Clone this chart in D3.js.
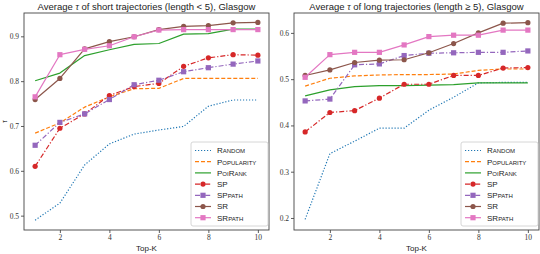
<!DOCTYPE html>
<html>
<head>
<meta charset="utf-8">
<script src="https://cdn.jsdelivr.net/npm/d3@7/dist/d3.min.js"></script>
<style>
  body { margin: 0; background: #fff; }
  svg { display: block; }
  .tick text { font-family: "Liberation Serif", "DejaVu Serif", serif; font-size: 7.5px; fill: #333; }
</style>
</head>
<body>
<div id="chart"></div>
<script>
// x values
const topK = [1, 2, 3, 4, 5, 6, 7, 8, 9, 10];

// short trajectories (length < 5)
const shortRandom     = [0.490, 0.528, 0.613, 0.660, 0.682, 0.691, 0.699, 0.744, 0.758, 0.758];
const shortPopularity = [0.684, 0.707, 0.742, 0.765, 0.783, 0.784, 0.806, 0.806, 0.806, 0.806];
const shortPoiRank    = [0.801, 0.818, 0.857, 0.870, 0.882, 0.884, 0.905, 0.906, 0.916, 0.916];
const shortSP         = [0.610, 0.695, 0.727, 0.768, 0.788, 0.795, 0.833, 0.852, 0.859, 0.858];
const shortSPpath     = [0.657, 0.708, 0.727, 0.759, 0.792, 0.802, 0.821, 0.830, 0.838, 0.845];
const shortSR         = [0.759, 0.806, 0.872, 0.888, 0.899, 0.915, 0.922, 0.924, 0.930, 0.931];
const shortSRpath     = [0.765, 0.859, 0.871, 0.879, 0.899, 0.914, 0.915, 0.915, 0.915, 0.915];

// long trajectories (length >= 5)
const longRandom     = [0.197, 0.339, 0.366, 0.394, 0.394, 0.433, 0.461, 0.492, 0.493, 0.493];
const longPopularity = [0.485, 0.502, 0.507, 0.509, 0.510, 0.510, 0.511, 0.519, 0.522, 0.522];
const longPoiRank    = [0.464, 0.477, 0.484, 0.486, 0.486, 0.487, 0.488, 0.492, 0.492, 0.492];
const longSP         = [0.386, 0.428, 0.432, 0.459, 0.489, 0.489, 0.508, 0.508, 0.524, 0.525];
const longSPpath     = [0.453, 0.457, 0.531, 0.533, 0.551, 0.556, 0.557, 0.558, 0.558, 0.561];
const longSR         = [0.508, 0.520, 0.536, 0.541, 0.542, 0.557, 0.577, 0.600, 0.621, 0.622];
const longSRpath     = [0.504, 0.553, 0.558, 0.558, 0.574, 0.592, 0.595, 0.595, 0.606, 0.606];

const xTicks = [2, 4, 6, 8, 10];
const shortYTicks = [0.5, 0.6, 0.7, 0.8, 0.9];
const longYTicks = [0.2, 0.3, 0.4, 0.5, 0.6];

// legend labels as [text, isLarge] pieces (small caps)
const methodLabels = [
  [["R", 1], ["ANDOM", 0]],
  [["P", 1], ["OPULARITY", 0]],
  [["P", 1], ["OI", 0], ["R", 1], ["ANK", 0]],
  [["SP", 1]],
  [["SP", 1], ["PATH", 0]],
  [["SR", 1]],
  [["SR", 1], ["PATH", 0]]
];

const styles = [
  { color: '#1f77b4', dash: '1.2,1.8', marker: null },
  { color: '#ff7f0e', dash: '4,2', marker: null },
  { color: '#2ca02c', dash: null, marker: null },
  { color: '#d62728', dash: '5,2,1.2,2', marker: 'circle' },
  { color: '#9467bd', dash: '5,2,1.2,2', marker: 'square' },
  { color: '#8c564b', dash: null, marker: 'circle' },
  { color: '#e377c2', dash: null, marker: 'square' }
];

const panels = [
  {
    title: ['Average ', 'τ', ' of short trajectories (length < 5), Glasgow'],
    series: [shortRandom, shortPopularity, shortPoiRank, shortSP, shortSPpath, shortSR, shortSRpath],
    yDomain: [0.468, 0.952], yTicks: shortYTicks,
    left: 24, right: 269, showYLabel: true
  },
  {
    title: ['Average ', 'τ', ' of long trajectories (length ≥ 5), Glasgow'],
    series: [longRandom, longPopularity, longPoiRank, longSP, longSPpath, longSR, longSRpath],
    yDomain: [0.174, 0.643], yTicks: longYTicks,
    left: 294, right: 539, showYLabel: false
  }
];

const width = 540, height = 254;
const plotTop = 13, plotBottom = 230;

const svg = d3.select('#chart')
  .append('svg')
  .attr('width', width)
  .attr('height', height);

panels.forEach((p, pi) => {
  const x = d3.scaleLinear().domain([0.55, 10.45]).range([p.left, p.right]);
  const y = d3.scaleLinear().domain(p.yDomain).range([plotBottom, plotTop]);

  const clipId = 'clip' + pi;
  svg.append('clipPath').attr('id', clipId)
    .append('rect')
    .attr('x', p.left).attr('y', plotTop)
    .attr('width', p.right - p.left).attr('height', plotBottom - plotTop);

  const g = svg.append('g');

  // lines
  const line = d3.line().x((d, i) => x(topK[i])).y(d => y(d));
  const plot = g.append('g').attr('clip-path', `url(#${clipId})`);

  p.series.forEach((vals, si) => {
    const s = styles[si];
    plot.append('path')
      .datum(vals)
      .attr('d', line)
      .attr('fill', 'none')
      .attr('stroke', s.color)
      .attr('stroke-width', 1.2)
      .attr('stroke-dasharray', s.dash)
      .attr('stroke-linejoin', 'round');

    if (s.marker === 'circle') {
      plot.selectAll(null)
        .data(vals)
        .enter()
        .append('circle')
        .attr('cx', (d, i) => x(topK[i]))
        .attr('cy', d => y(d))
        .attr('r', 2.6)
        .attr('fill', s.color);
    } else if (s.marker === 'square') {
      plot.selectAll(null)
        .data(vals)
        .enter()
        .append('rect')
        .attr('x', (d, i) => x(topK[i]) - 2.6)
        .attr('y', d => y(d) - 2.6)
        .attr('width', 5.2)
        .attr('height', 5.2)
        .attr('fill', s.color);
    }
  });

  // axes
  const xAxis = g.append('g')
    .attr('transform', `translate(0,${plotBottom})`)
    .call(d3.axisBottom(x).tickValues(xTicks).tickSize(3).tickPadding(2).tickFormat(d3.format('d')));
  const yAxis = g.append('g')
    .attr('transform', `translate(${p.left},0)`)
    .call(d3.axisLeft(y).tickValues(p.yTicks).tickSize(3).tickPadding(2).tickFormat(d3.format('.1f')));
  [xAxis, yAxis].forEach(a => {
    a.select('.domain').remove();
    a.selectAll('.tick line').attr('stroke', '#333').attr('stroke-width', 0.8);
  });

  // frame
  g.append('rect')
    .attr('x', p.left).attr('y', plotTop)
    .attr('width', p.right - p.left).attr('height', plotBottom - plotTop)
    .attr('fill', 'none')
    .attr('stroke', '#444')
    .attr('stroke-width', 0.9);

  // title
  const title = g.append('text')
    .attr('x', (p.left + p.right) / 2)
    .attr('y', 9.5)
    .attr('text-anchor', 'middle')
    .attr('font-family', 'Liberation Sans, Arial, sans-serif')
    .attr('font-size', '9.5px')
    .attr('fill', '#222');
  title.append('tspan').text(p.title[0]);
  title.append('tspan').attr('font-family', 'Liberation Serif, serif').attr('font-style', 'italic').text(p.title[1]);
  title.append('tspan').text(p.title[2]);

  // x label
  g.append('text')
    .attr('x', (p.left + p.right) / 2)
    .attr('y', 251)
    .attr('text-anchor', 'middle')
    .attr('font-family', 'Liberation Sans, Arial, sans-serif')
    .attr('font-size', '8px')
    .attr('fill', '#222')
    .text('Top-K');

  if (p.showYLabel) {
    g.append('text')
      .attr('transform', `translate(7,${(plotTop + plotBottom) / 2}) rotate(-90)`)
      .attr('text-anchor', 'middle')
      .attr('font-family', 'Liberation Serif, serif')
      .attr('font-style', 'italic')
      .attr('font-size', '8px')
      .attr('fill', '#222')
      .text('τ');
  }

  // legend
  const lx = p.right - 78, ly = 142;
  const leg = g.append('g');
  leg.append('rect')
    .attr('x', lx).attr('y', ly)
    .attr('width', 77).attr('height', 84)
    .attr('rx', 2)
    .attr('fill', 'rgba(255,255,255,0.85)')
    .attr('stroke', '#ccc')
    .attr('stroke-width', 0.8);

  methodLabels.forEach((lab, i) => {
    const s = styles[i];
    const yy = ly + 8.5 + i * 11.2;
    leg.append('line')
      .attr('x1', lx + 4).attr('x2', lx + 20)
      .attr('y1', yy).attr('y2', yy)
      .attr('stroke', s.color)
      .attr('stroke-width', 1.2)
      .attr('stroke-dasharray', s.dash);
    if (s.marker === 'circle') {
      leg.append('circle').attr('cx', lx + 12).attr('cy', yy).attr('r', 2.6).attr('fill', s.color);
    } else if (s.marker === 'square') {
      leg.append('rect').attr('x', lx + 9.4).attr('y', yy - 2.6).attr('width', 5.2).attr('height', 5.2).attr('fill', s.color);
    }
    const t = leg.append('text')
      .attr('x', lx + 26)
      .attr('y', yy + 2.8)
      .attr('font-family', 'Liberation Sans, Arial, sans-serif')
      .attr('fill', '#222');
    lab.forEach(([txt, big]) => {
      t.append('tspan').attr('font-size', big ? '8px' : '6px').text(txt);
    });
  });
});
</script>
</body>
</html>
